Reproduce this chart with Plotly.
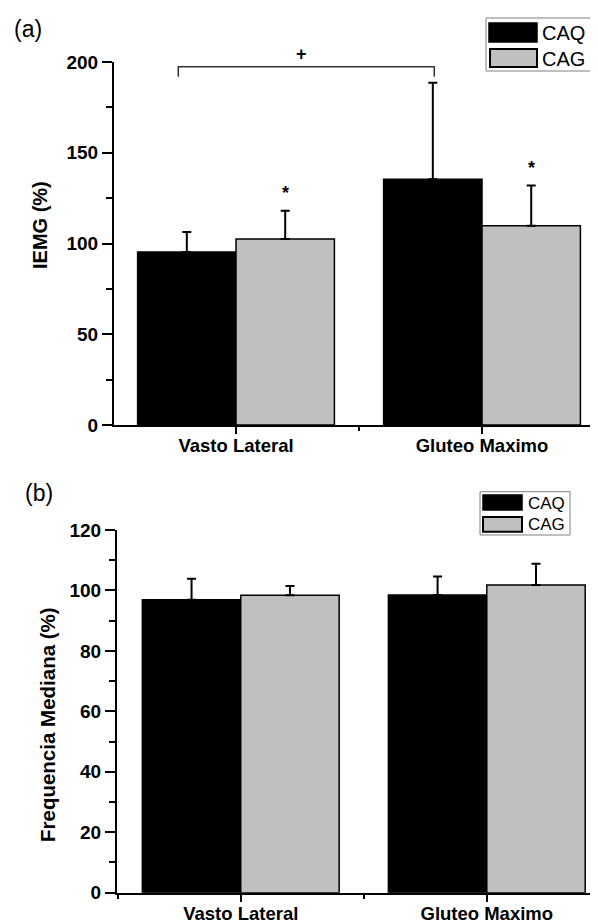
import plotly.graph_objects as go

# ---------------- data ----------------
categories = ["Vasto Lateral", "Gluteo Maximo"]
series_names = ["CAQ", "CAG"]

# panel (a) IEMG (%)
iemg_caq = [95.3, 135.4]
iemg_caq_sd = [11.0, 53.2]
iemg_cag = [102.5, 109.8]
iemg_cag_sd = [15.5, 22.1]

# panel (b) Frequencia Mediana (%)
fm_caq = [96.9, 98.5]
fm_caq_sd = [7.0, 6.1]
fm_cag = [98.4, 101.8]
fm_cag_sd = [3.1, 7.0]

yticks_a = [0, 50, 100, 150, 200]
yticks_b = [0, 20, 40, 60, 80, 100, 120]

# the page body adds an 8px margin; the figure fills the rest of the window
OFF = 8
W, H = 598 - OFF, 921 - OFF
FONT = "Liberation Sans"
GRAY = "#c0c0c0"


def px(x):
    return (x - OFF) / W


def py(y):
    return 1 - (y - OFF) / H


xs = list(range(len(categories)))

fig = go.Figure()


def add_bars(yvals, sds, name, color, xa, ya):
    fig.add_trace(go.Bar(
        x=xs, y=yvals, name=name, showlegend=False,
        marker=dict(color=color, line=dict(color="black", width=1.5)),
        error_y=dict(type="data", array=sds, arrayminus=[0] * len(sds),
                     symmetric=False, color="black", thickness=2, width=4.5),
        xaxis=xa, yaxis=ya,
    ))


add_bars(iemg_caq, iemg_caq_sd, series_names[0], "black", "x", "y")
add_bars(iemg_cag, iemg_cag_sd, series_names[1], GRAY, "x", "y")
add_bars(fm_caq, fm_caq_sd, series_names[0], "black", "x2", "y2")
add_bars(fm_cag, fm_cag_sd, series_names[1], GRAY, "x2", "y2")

xcommon = dict(
    showline=True, linewidth=2, linecolor="black", mirror=False,
    tickmode="array", tickvals=xs, ticktext=categories,
    ticks="outside", ticklen=7, tickwidth=2, tickcolor="black",
    ticklabelstandoff=-4,
    minor=dict(tickmode="array", tickvals=[-0.5, 0.5], ticks="outside",
               ticklen=4, tickwidth=2, tickcolor="black"),
    tickfont=dict(family=FONT, size=18.5, color="black", weight="bold"),
    showgrid=False, zeroline=False, fixedrange=True, automargin=False,
)
ycommon = dict(
    showline=True, linewidth=2, linecolor="black",
    ticks="outside", ticklen=10, tickwidth=2, tickcolor="black",
    tickfont=dict(family=FONT, size=19, color="black", weight="bold"),
    showgrid=False, zeroline=False, fixedrange=True, automargin=False,
)

fig.update_layout(
    width=W, height=H,
    margin=dict(l=0, r=0, t=0, b=0, pad=0),
    paper_bgcolor="white", plot_bgcolor="white",
    barmode="group", bargap=0.2, bargroupgap=0,
    showlegend=False,
    font=dict(family=FONT, color="black"),
    xaxis=dict(xcommon, domain=[px(114), 1], range=[-0.496, 1.4715], anchor="y"),
    yaxis=dict(ycommon, domain=[py(425), py(62)], range=[0, 200],
               tickmode="array", tickvals=yticks_a,
               minor=dict(dtick=25, tick0=0, ticks="outside", ticklen=6,
                          tickwidth=2, tickcolor="black"),
               anchor="x"),
    xaxis2=dict(xcommon, domain=[px(117), 1], range=[-0.503, 1.452], anchor="y2"),
    yaxis2=dict(ycommon, domain=[py(892.7), py(530)], range=[0, 120],
                tickmode="array", tickvals=yticks_b,
                minor=dict(dtick=10, tick0=0, ticks="outside", ticklen=6,
                           tickwidth=2, tickcolor="black"),
                anchor="x2"),
)

shapes = []
annotations = []

# significance bracket panel (a)
shapes.append(dict(type="path", xref="x", yref="y",
                   path="M -0.2346,191.9 L -0.2346,197.4 L 0.806,197.4 L 0.806,191.9",
                   line=dict(color="#333333", width=1.5)))
annotations.append(dict(x=0.267, y=200, xref="x", yref="y", text="<b>+</b>",
                        showarrow=False, font=dict(family=FONT, size=18, color="black"),
                        xanchor="center", yanchor="middle", yshift=8))

# stars above CAG bars in panel (a)
for i in range(len(categories)):
    top = iemg_cag[i] + iemg_cag_sd[i]
    annotations.append(dict(x=xs[i] + 0.2, y=top + 8.5, xref="x", yref="y",
                            text="<b>*</b>", showarrow=False,
                            font=dict(family=FONT, size=18, color="black"),
                            xanchor="center", yanchor="bottom", yshift=-10))

# panel labels
annotations.append(dict(x=px(28), y=py(29), xref="paper", yref="paper", text="(a)",
                        showarrow=False, font=dict(family=FONT, size=23),
                        xanchor="center", yanchor="middle"))
annotations.append(dict(x=px(39), y=py(493), xref="paper", yref="paper", text="(b)",
                        showarrow=False, font=dict(family=FONT, size=23),
                        xanchor="center", yanchor="middle"))

# y titles
annotations.append(dict(x=px(40), y=py(225), xref="paper", yref="paper",
                        text="<b>IEMG (%)</b>", textangle=-90, showarrow=False,
                        font=dict(family=FONT, size=20),
                        xanchor="center", yanchor="middle"))
annotations.append(dict(x=px(47), y=py(725), xref="paper", yref="paper",
                        text="<b>Frequencia Mediana (%)</b>", textangle=-90, showarrow=False,
                        font=dict(family=FONT, size=20.5),
                        xanchor="center", yanchor="middle"))


def legend(box, sw1, sw2, tx, ty1, ty2, fsize):
    shapes.append(dict(type="rect", xref="paper", yref="paper",
                       x0=px(box[0]), x1=px(box[1]), y0=py(box[3]), y1=py(box[2]),
                       line=dict(color="#808080", width=1), fillcolor="white"))
    shapes.append(dict(type="rect", xref="paper", yref="paper",
                       x0=px(sw1[0]), x1=px(sw1[1]), y0=py(sw1[3]), y1=py(sw1[2]),
                       line=dict(color="black", width=1.5), fillcolor="black"))
    shapes.append(dict(type="rect", xref="paper", yref="paper",
                       x0=px(sw2[0]), x1=px(sw2[1]), y0=py(sw2[3]), y1=py(sw2[2]),
                       line=dict(color="black", width=2), fillcolor=GRAY))
    for name, ty in zip(series_names, [ty1, ty2]):
        annotations.append(dict(x=px(tx), y=py(ty), xref="paper", yref="paper",
                                text=name, showarrow=False,
                                font=dict(family=FONT, size=fsize, color="black"),
                                xanchor="left", yanchor="middle", xshift=-2))


legend((486, 597.5, 18, 71), (489, 537, 23, 42), (490, 537, 49, 67), 542, 33, 59, 20)
legend((480, 570, 491.7, 535), (483, 522, 495, 510), (483, 522, 517, 531.7), 527.7, 503, 524, 17)

fig.update_layout(shapes=shapes, annotations=annotations)

fig.write_html("out.html")
